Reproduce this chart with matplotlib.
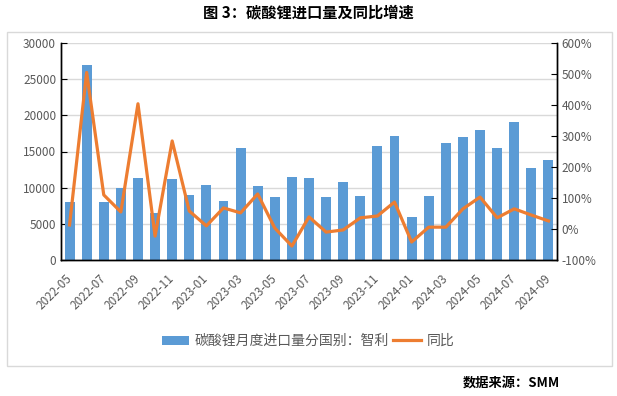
import matplotlib
matplotlib.use("Agg")
import matplotlib.pyplot as plt
from matplotlib.patches import Rectangle
from matplotlib.ticker import FuncFormatter, MultipleLocator
import numpy as np

plt.rcParams['font.family'] = ['Noto Sans CJK SC', 'DejaVu Sans']

months = ["2022-05", "2022-06", "2022-07", "2022-08", "2022-09", "2022-10", "2022-11", "2022-12",
          "2023-01", "2023-02", "2023-03", "2023-04", "2023-05", "2023-06", "2023-07", "2023-08",
          "2023-09", "2023-10", "2023-11", "2023-12", "2024-01", "2024-02", "2024-03", "2024-04",
          "2024-05", "2024-06", "2024-07", "2024-08", "2024-09"]
imports = [8000, 27000, 8000, 10000, 11350, 6500, 11200, 9000,
           10400, 8150, 15500, 10250, 8700, 11500, 11350, 8700,
           10800, 8850, 15800, 17150, 5950, 8850, 16200, 17000,
           18000, 15500, 19100, 12750, 13850]
yoy = [13, 505, 110, 55, 404, -23, 284, 58,
       10, 68, 52, 113, 3, -55, 39, -10,
       -3, 36, 42, 87, -42, 6, 6, 65,
       103, 36, 65, 45, 26]

bar_label = "碳酸锂月度进口量分国别：智利"
line_label = "同比"
title = "图 3：碳酸锂进口量及同比增速"
source = "数据来源：SMM"

W, H = 617, 396
fig = plt.figure(figsize=(W / 100, H / 100), dpi=100)

# chart border
fig.patches.append(Rectangle((7 / W, 1 - 366 / H), (612 - 7) / W, (366 - 32) / H,
                             transform=fig.transFigure, fill=False,
                             edgecolor="#D9D9D9", linewidth=1))

ax = fig.add_axes([61 / W, 1 - 260 / H, (557 - 61) / W, (260 - 43) / H])
ax2 = ax.twinx()

x = np.arange(len(months))
bars = ax.bar(x, imports, width=0.58, color="#5B9BD5", label=bar_label, zorder=2)
ln, = ax2.plot(x, yoy, color="#ED7D31", linewidth=2.3, label=line_label, zorder=3)

ax.set_xlim(-0.5, len(months) - 0.5)
ax.set_ylim(0, 30000)
ax.yaxis.set_major_locator(MultipleLocator(5000))
ax2.set_ylim(-100, 600)
ax2.yaxis.set_major_locator(MultipleLocator(100))
ax2.yaxis.set_major_formatter(FuncFormatter(lambda v, p: f"{int(v)}%"))

ax.grid(axis="y", color="#D9D9D9", linewidth=1, zorder=0)
ax.set_axisbelow(True)

ax.set_xticks(x[::2])
ax.set_xticklabels(months[::2], rotation=45, ha="right", rotation_mode="anchor")
ax.tick_params(axis="x", length=0, labelsize=8.5, labelcolor="#595959", pad=12)
for t in ax.get_xticklabels():
    t.set_va("center")
ax.tick_params(axis="y", direction="in", length=4, labelsize=8.5, labelcolor="#595959", color="black")
ax2.tick_params(axis="y", direction="in", length=4, labelsize=8.5, labelcolor="#595959", color="black")

for a in (ax, ax2):
    a.spines["top"].set_visible(False)
    for s in ("left", "right", "bottom"):
        a.spines[s].set_color("black")
        a.spines[s].set_linewidth(1)

fig.legend([bars, ln], [bar_label, line_label], loc="center", bbox_to_anchor=(308 / W, 1 - 341 / H),
           ncol=2, frameon=False, fontsize=10, labelcolor="#595959", handlelength=2.0,
           handleheight=0.6, handletextpad=0.4, columnspacing=0.3)

fig.text(0.5, 1 - 12 / H, title, ha="center", va="center", fontsize=11, fontweight="bold")
fig.text(560 / W, 1 - 383 / H, source, ha="right", va="center", fontsize=9.5, fontweight="bold")

fig.savefig("out.png", dpi=100)
